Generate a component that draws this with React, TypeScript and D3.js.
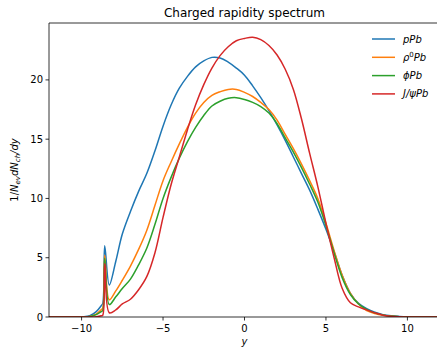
import React from "react";
import * as d3 from "d3";

const xs = [-12, -10, -9.5, -9.1, -8.8, -8.7, -8.58, -8.3, -7.9, -7.5, -7.0, -6.5, -6.0, -5.5, -5.0, -4.5, -4.0, -3.5, -3.0, -2.5, -2.0, -1.5, -1.0, -0.5, 0, 0.5, 1.0, 1.5, 2.0, 2.5, 3.0, 3.5, 4.0, 4.5, 5.0, 5.5, 6.0, 6.5, 7.0, 7.5, 8.0, 8.5, 9.0, 9.5, 10, 12];

const pPb = [0, 0.02, 0.1, 0.45, 0.95, 1.15, 6.0, 2.7, 4.7, 7.0, 8.9, 10.6, 12.1, 14.0, 16.1, 17.9, 19.3, 20.3, 21.1, 21.6, 21.9, 21.85, 21.5, 21.0, 20.4, 19.5, 18.5, 17.4, 16.2, 14.9, 13.5, 12.1, 10.7, 9.1, 7.4, 5.5, 3.5, 2.0, 1.15, 0.7, 0.4, 0.2, 0.1, 0.05, 0.02, 0];
const rhoPb = [0, 0.01, 0.05, 0.25, 0.6, 0.75, 5.2, 1.45, 2.2, 3.1, 4.3, 5.7, 7.3, 9.4, 11.5, 13.1, 14.6, 16.0, 17.2, 18.1, 18.7, 19.0, 19.2, 19.2, 18.95, 18.6, 18.1, 17.5, 16.6, 15.4, 14.2, 12.9, 11.5, 10.0, 7.9, 5.6, 3.5, 2.0, 1.1, 0.55, 0.3, 0.15, 0.07, 0.03, 0.01, 0];
const phiPb = [0, 0.01, 0.04, 0.2, 0.45, 0.55, 4.95, 1.05, 1.7, 2.4, 3.2, 4.4, 5.8, 7.8, 10.0, 11.8, 13.4, 14.8, 16.0, 17.0, 17.8, 18.2, 18.45, 18.5, 18.35, 18.1, 17.75, 17.2, 16.3, 15.1, 13.9, 12.6, 11.2, 9.7, 7.7, 5.4, 3.3, 1.9, 1.1, 0.65, 0.35, 0.18, 0.08, 0.03, 0.01, 0];
const jpsiPb = [0, 0, 0, 0.02, 0.1, 0.15, 4.5, 0.36, 0.6, 1.1, 1.5, 2.3, 3.4, 5.4, 8.4, 11.2, 13.5, 15.8, 17.9, 19.6, 21.0, 22.05, 22.8, 23.3, 23.5, 23.6, 23.4, 22.9, 22.1, 20.9, 19.2, 16.7, 13.8, 11.0, 7.9, 5.0, 2.4, 1.2, 0.85, 0.6, 0.35, 0.15, 0.06, 0.02, 0, 0];

const seriesNames = ["pPb", "rho0Pb", "phiPb", "JpsiPb"];
const seriesValues = [pPb, rhoPb, phiPb, jpsiPb];
const colors = ["#1f77b4", "#ff7f0e", "#2ca02c", "#d62728"];
const xTicks = [-10, -5, 0, 5, 10];
const yTicks = [0, 5, 10, 15, 20];

const W = 437, H = 349;
const L = 49, R = 440, T = 23, B = 317;
const font = "DejaVu Sans, sans-serif";

function legendLabel(i: number) {
  const st = { fontStyle: "italic" as const };
  if (i === 0) return <tspan style={st}>pPb</tspan>;
  if (i === 1) return (<><tspan style={st}>ρ</tspan><tspan dy={-4} fontSize={7}>0</tspan><tspan dy={4} style={st}>Pb</tspan></>);
  if (i === 2) return <tspan style={st}>ϕPb</tspan>;
  return <tspan style={st}>J/ψPb</tspan>;
}

export default function App() {
  const x = d3.scaleLinear().domain([-12, 12]).range([L, R]);
  const y = d3.scaleLinear().domain([0, 24.8]).range([B, T]);
  const line = d3.line<number>()
    .x((_, i) => x(xs[i]))
    .y((d) => y(d))
    .curve(d3.curveCatmullRom.alpha(0.5));
  const fmt = (v: number) => (v < 0 ? "\u2212" + Math.abs(v) : String(v));
  return (
    <svg width={W} height={H} style={{ position: "absolute", left: 0, top: 0, background: "#fff" }} fontFamily={font}>
      <defs>
        <clipPath id="plot"><rect x={L} y={T} width={R - L} height={B - T} /></clipPath>
      </defs>
      <g clipPath="url(#plot)">
        {seriesValues.map((vals, i) => (
          <path key={seriesNames[i]} d={line(vals) || ""} fill="none" stroke={colors[i]} strokeWidth={1.5} strokeLinejoin="round" />
        ))}
      </g>
      <g stroke="#000" strokeWidth={0.8} fill="none">
        <line x1={L} y1={T} x2={L} y2={B} />
        <line x1={L} y1={B} x2={R} y2={B} />
        <line x1={L} y1={T} x2={R} y2={T} />
        <line x1={R} y1={T} x2={R} y2={B} />
      </g>
      {xTicks.map((t) => (
        <g key={"x" + t}>
          <line x1={x(t)} x2={x(t)} y1={B} y2={B + 3.5} stroke="#000" strokeWidth={0.8} />
          <text x={x(t)} y={B + 15} textAnchor="middle" fontSize={10} fill="#000">{fmt(t)}</text>
        </g>
      ))}
      {yTicks.map((t) => (
        <g key={"y" + t}>
          <line x1={L - 3.5} x2={L} y1={y(t)} y2={y(t)} stroke="#000" strokeWidth={0.8} />
          <text x={L - 6} y={y(t) + 3.5} textAnchor="end" fontSize={10} fill="#000">{fmt(t)}</text>
        </g>
      ))}
      <text x={(L + R) / 2} y={17} textAnchor="middle" fontSize={12} fill="#000">Charged rapidity spectrum</text>
      <text x={(L + R) / 2} y={345} textAnchor="middle" fontSize={10} fontStyle="italic" fill="#000">y</text>
      <text transform={`translate(18,${(T + B) / 2}) rotate(-90)`} textAnchor="middle" fontSize={10} fill="#000">
        <tspan>1/</tspan><tspan fontStyle="italic">N</tspan><tspan fontStyle="italic" fontSize={7} dy={2}>ev</tspan>
        <tspan fontStyle="italic" dy={-2}>dN</tspan><tspan fontStyle="italic" fontSize={7} dy={2}>ch</tspan>
        <tspan fontStyle="italic" dy={-2}>/dy</tspan>
      </text>
      {seriesNames.map((n, i) => (
        <g key={"leg" + n}>
          <line x1={372} x2={395} y1={39 + i * 18.3} y2={39 + i * 18.3} stroke={colors[i]} strokeWidth={1.5} />
          <text x={403} y={39 + i * 18.3 + 3.5} fontSize={10} fill="#000">{legendLabel(i)}</text>
        </g>
      ))}
    </svg>
  );
}
